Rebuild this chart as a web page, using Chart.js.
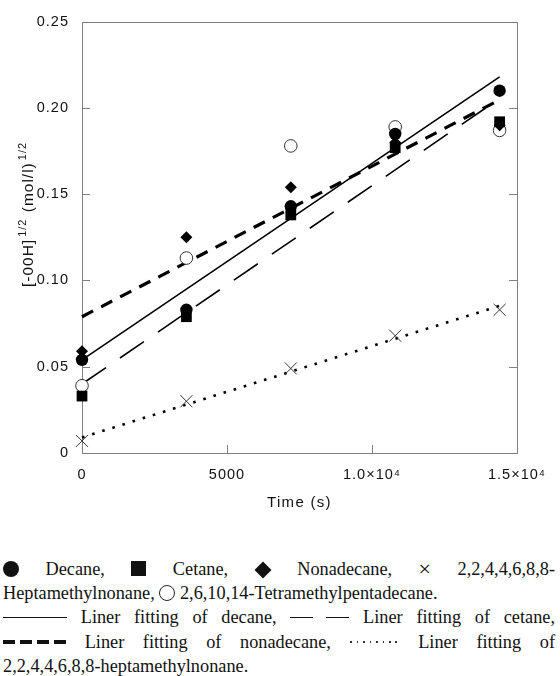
<!DOCTYPE html>
<html><head><meta charset="utf-8">
<script src="https://cdn.jsdelivr.net/npm/chart.js@4.4.0/dist/chart.umd.min.js"></script>
<style>
html,body{margin:0;padding:0;background:#fff;width:560px;height:676px;overflow:hidden}
#wrap{position:absolute;left:0;top:0;width:560px;height:530px}
#legend{position:absolute;left:3px;top:557px;width:552px;font-family:"Liberation Serif","Times New Roman",serif;font-size:18.3px;line-height:24.2px;color:#111}
.ln{height:24.2px;white-space:nowrap}
.j{text-align:justify;text-align-last:justify;white-space:normal}
.sym{display:inline-block;vertical-align:-1px}
.dot{width:16px;height:16px;border-radius:50%;background:#111;vertical-align:-2px}
.sq{width:15px;height:15px;background:#111}
.dia{width:12px;height:12px;background:#111;transform:rotate(45deg);margin:0 2px}
.oc{width:16px;height:16px;border-radius:50%;border:1px solid #222;box-sizing:border-box;vertical-align:-2px}
.x{font-size:22px;line-height:18px;vertical-align:-1px}
.solid{display:inline-block;width:64px;height:1.5px;background:#111;vertical-align:5px}
.ldash{display:inline-block;width:59px;height:1.5px;vertical-align:5px;background:linear-gradient(to right,#111 0,#111 23px,transparent 23px,transparent 36px,#111 36px,#111 59px)}
.tdash{display:inline-block;width:63px;height:4px;vertical-align:4px;background:repeating-linear-gradient(to right,#111 0,#111 12px,transparent 12px,transparent 17px)}
.dots{display:inline-block;width:50px;height:1.5px;vertical-align:5px;background:repeating-linear-gradient(to right,#333 0,#333 1.5px,transparent 1.5px,transparent 6.5px)}
</style>
</head><body>
<div id="wrap"><canvas id="c" width="560" height="530"></canvas></div>
<div id="legend">
<div class="ln j"><span class="sym dot"></span> Decane, <span class="sym sq"></span> Cetane, <span class="sym dia"></span> Nonadecane, <span class="x">×</span> 2,2,4,4,6,8,8-</div>
<div class="ln">Heptamethylnonane, <span class="sym oc"></span> 2,6,10,14-Tetramethylpentadecane.</div>
<div class="ln j"><span class="solid"></span> Liner fitting of decane, <span class="ldash"></span> Liner fitting of cetane,</div>
<div class="ln j"><span class="tdash"></span> Liner fitting of nonadecane, <span class="dots"></span> Liner fitting of</div>
<div class="ln">2,2,4,4,6,8,8-heptamethylnonane.</div>
</div>
<script>
// ---- data ----
const times = [0, 3600, 7200, 10800, 14400];
const decane = [0.054, 0.083, 0.143, 0.185, 0.210];
const cetane = [0.033, 0.079, 0.138, 0.177, 0.192];
const nonadecane = [0.059, 0.125, 0.154, 0.180, 0.190];
const heptamethylnonane = [0.007, 0.030, 0.049, 0.068, 0.083];
const tetramethylpentadecane = [0.039, 0.113, 0.178, 0.189, 0.187];

const fitTimes = [0, 14400];
const decaneFit = [0.054, 0.218];
const cetaneFit = [0.040, 0.2055];
const nonadecaneFit = [0.079, 0.2047];
const heptamethylnonaneFit = [0.009, 0.0853];

const xTickValues = [0, 5000, 10000, 15000];
const xTickLabels = ['0', '5000', '1.0×10⁴', '1.5×10⁴'];
const yTickValues = [0, 0.05, 0.10, 0.15, 0.20, 0.25];
const yTickLabels = ['0', '0.05', '0.10', '0.15', '0.20', '0.25'];
const xTitle = 'Time (s)';
const yTitleParts = [['[-00H]', false], ['1/2', true], [' (mol/l)', false], ['1/2', true]];

function pts(xs, ys) { return xs.map((x, i) => ({ x: x, y: ys[i] })); }

const FONT = '"Liberation Sans", Arial, Helvetica, sans-serif';
Chart.defaults.font.family = FONT;
Chart.defaults.font.size = 14.5;
Chart.defaults.color = '#111';

const framePlugin = {
  id: 'frame',
  beforeDraw(chart) { chart.ctx.letterSpacing = '1px'; },
  beforeDatasetsDraw(chart) {
    const ctx = chart.ctx, a = chart.chartArea;
    const xs = chart.scales.x, ys = chart.scales.y;
    ctx.save();
    ctx.strokeStyle = '#808080';
    ctx.lineWidth = 1;
    ctx.strokeRect(Math.round(a.left) + 0.5, Math.round(a.top) + 0.5, Math.round(a.right - a.left), Math.round(a.bottom - a.top));
    ctx.beginPath();
    for (const v of yTickValues.slice(1, -1)) {
      const y = Math.round(ys.getPixelForValue(v)) + 0.5;
      ctx.moveTo(a.left, y); ctx.lineTo(a.left + 8, y);
      ctx.moveTo(a.right, y); ctx.lineTo(a.right - 8, y);
    }
    for (const v of xTickValues.slice(1, -1)) {
      const x = Math.round(xs.getPixelForValue(v)) + 0.5;
      ctx.moveTo(x, a.bottom); ctx.lineTo(x, a.bottom - 8);
    }
    ctx.stroke();
    ctx.restore();
  },
  afterDraw(chart) {
    const ctx = chart.ctx, a = chart.chartArea;
    ctx.save();
    ctx.fillStyle = '#111';
    ctx.letterSpacing = '1.3px';
    ctx.font = '15px ' + FONT;
    ctx.textAlign = 'center';
    ctx.textBaseline = 'middle';
    ctx.fillText(xTitle, (a.left + a.right) / 2, 503);
    // y title, rotated
    ctx.letterSpacing = '1px';
    const big = '15.5px ' + FONT, small = '11px ' + FONT;
    let total = 0;
    const widths = yTitleParts.map(p => { ctx.font = p[1] ? small : big; const w = ctx.measureText(p[0]).width; total += w + (p[1] ? 3 : 0); return w; });
    ctx.translate(27, 214);
    ctx.rotate(-Math.PI / 2);
    ctx.textAlign = 'left';
    ctx.textBaseline = 'alphabetic';
    let x = -total / 2;
    yTitleParts.forEach((p, i) => {
      ctx.font = p[1] ? small : big;
      ctx.fillText(p[0], x + (p[1] ? 2 : 0), p[1] ? -1 : 6);
      x += widths[i] + (p[1] ? 3 : 0);
    });
    ctx.restore();
  }
};

const markerBase = { showLine: false, clip: false, pointHoverRadius: 0 };
const lineBase = { showLine: true, pointRadius: 0, clip: false, fill: false, tension: 0 };

new Chart(document.getElementById('c'), {
  type: 'scatter',
  data: {
    datasets: [
      Object.assign({ label: 'Decane', data: pts(times, decane), pointStyle: 'circle', pointRadius: 6.2, backgroundColor: '#000', borderColor: '#000', borderWidth: 0 }, markerBase),
      Object.assign({ label: 'Cetane', data: pts(times, cetane), pointStyle: 'rect', pointRadius: 7.6, backgroundColor: '#000', borderColor: '#000', borderWidth: 0 }, markerBase),
      Object.assign({ label: 'Nonadecane', data: pts(times, nonadecane), pointStyle: 'rectRot', pointRadius: 6, backgroundColor: '#000', borderColor: '#000', borderWidth: 0 }, markerBase),
      Object.assign({ label: '2,6,10,14-Tetramethylpentadecane', data: pts(times, tetramethylpentadecane), pointStyle: 'circle', pointRadius: 6.3, backgroundColor: '#fff', borderColor: '#333', borderWidth: 1 }, markerBase),
      Object.assign({ label: '2,2,4,4,6,8,8-Heptamethylnonane', data: pts(times, heptamethylnonane), pointStyle: 'crossRot', pointRadius: 8.5, backgroundColor: '#333', borderColor: '#333', borderWidth: 1 }, markerBase),
      Object.assign({ label: 'Fit decane', data: pts(fitTimes, decaneFit), borderColor: '#000', borderWidth: 1.6 }, lineBase),
      Object.assign({ label: 'Fit cetane', data: pts(fitTimes, cetaneFit), borderColor: '#000', borderWidth: 1.6, borderDash: [29, 17] }, lineBase),
      Object.assign({ label: 'Fit nonadecane', data: pts(fitTimes, nonadecaneFit), borderColor: '#000', borderWidth: 3.2, borderDash: [12.5, 9] }, lineBase),
      Object.assign({ label: 'Fit heptamethylnonane', data: pts(fitTimes, heptamethylnonaneFit), borderColor: '#000', borderWidth: 2.6, borderDash: [2.6, 8] }, lineBase)
    ]
  },
  options: {
    responsive: false,
    animation: false,
    events: [],
    layout: { padding: { left: 0, right: 43, top: 17, bottom: 0 } },
    plugins: { legend: { display: false }, tooltip: { enabled: false } },
    scales: {
      x: {
        type: 'linear', min: 0, max: 15000,
        afterBuildTicks(s) { s.ticks = xTickValues.map(v => ({ value: v })); },
        afterFit(s) { s.height = 77; },
        grid: { display: false, drawTicks: false },
        border: { display: false },
        ticks: { padding: 13, maxRotation: 0, autoSkip: false,
          callback(v) { const i = xTickValues.indexOf(v); return i >= 0 ? xTickLabels[i] : ''; } }
      },
      y: {
        type: 'linear', min: 0, max: 0.25,
        afterBuildTicks(s) { s.ticks = yTickValues.map(v => ({ value: v })); },
        afterFit(s) { s.width = 82; },
        grid: { display: false, drawTicks: false },
        border: { display: false },
        ticks: { padding: 13, autoSkip: false,
          callback(v) { const i = yTickValues.findIndex(t => Math.abs(t - v) < 1e-9); return i >= 0 ? yTickLabels[i] : ''; } }
      }
    }
  },
  plugins: [framePlugin]
});
</script>
</body></html>
